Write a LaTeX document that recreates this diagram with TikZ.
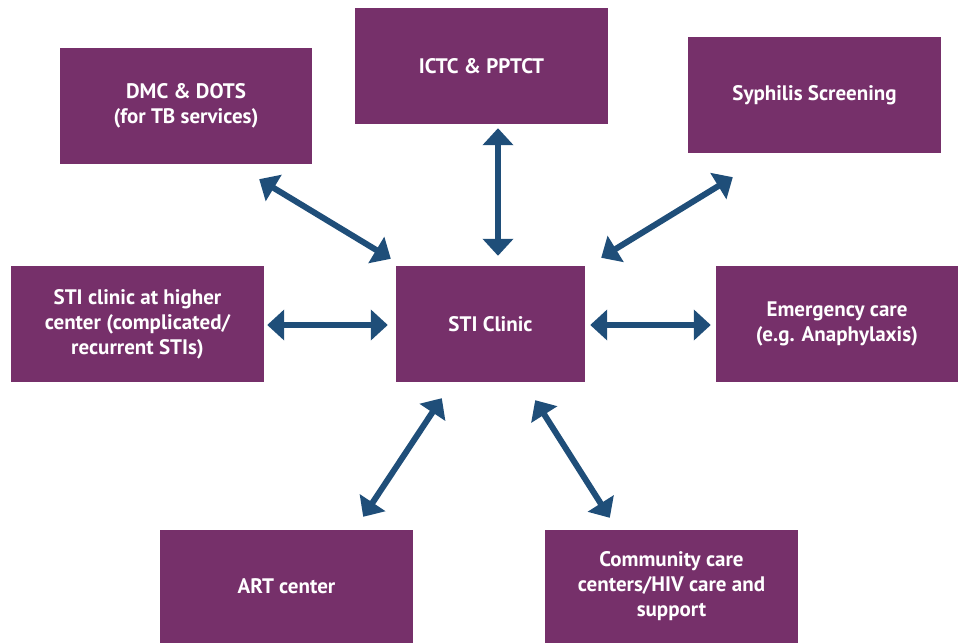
\documentclass[tikz,border=0pt]{standalone}
\usepackage{fontspec}
\setmainfont{PT Sans}
\usetikzlibrary{arrows.meta}

\definecolor{boxpurple}{HTML}{76306A}
\definecolor{arrowblue}{HTML}{1F4E79}

\tikzset{
    service/.style={fill=boxpurple, draw=none, text=white, align=center,
        font=\fontsize{21}{25}\selectfont\bfseries, inner sep=0pt},
    link/.style={draw=arrowblue, line width=6pt,
        {Triangle[width=30pt,length=17pt]}-{Triangle[width=30pt,length=17pt]}}
}

\begin{document}
\begin{tikzpicture}[x=1pt, y=1pt]

\useasboundingbox (0,0) rectangle (959,643);

% The service boxes
\node[service, minimum width=252pt, minimum height=116pt] (dmc)  at (186,537)   {DMC \& DOTS\\(for TB services)};
\node[service, minimum width=253pt, minimum height=116pt] (ictc) at (481.5,577) {ICTC \& PPTCT};
\node[service, minimum width=253pt, minimum height=116pt] (syph) at (814.5,548) {Syphilis Screening};
\node[service, minimum width=253pt, minimum height=116pt] (high) at (137.5,319) {STI clinic at higher\\center (complicated/\\recurrent STIs)};
\node[service, minimum width=189pt, minimum height=116pt] (sti)  at (490.5,319) {STI Clinic};
\node[service, minimum width=242pt, minimum height=116pt] (emer) at (837,319)   {Emergency care\\(e.g. Anaphylaxis)};
\node[service, minimum width=253pt, minimum height=113pt] (art)  at (286.5,56.5) {ART center};
\node[service, minimum width=253pt, minimum height=113pt] (comm) at (671.5,56.5) {Community care\\centers/HIV care and\\support};

% Two-way links to the STI clinic (ends kept off the boxes)
\draw[link] ([shift={(-53,-15)}]dmc.south east) -- ([shift={(-5,7)}]sti.north west);
\draw[link] ([shift={(16.5,-4)}]ictc.south) -- ([shift={(7.5,10)}]sti.north);
\draw[link] ([shift={(45,-24)}]syph.south west) -- ([shift={(16,8)}]sti.north east);
\draw[link] ([shift={(3,-1)}]high.east) -- ([shift={(-8,-1)}]sti.west);
\draw[link] ([shift={(5,-1)}]sti.east) -- ([shift={(-5,-1)}]emer.west);
\draw[link] ([shift={(46,-16)}]sti.south west) -- ([shift={(-50,13)}]art.north east);
\draw[link] ([shift={(-50,-18)}]sti.south east) -- ([shift={(65,12)}]comm.north west);

\end{tikzpicture}
\end{document}
